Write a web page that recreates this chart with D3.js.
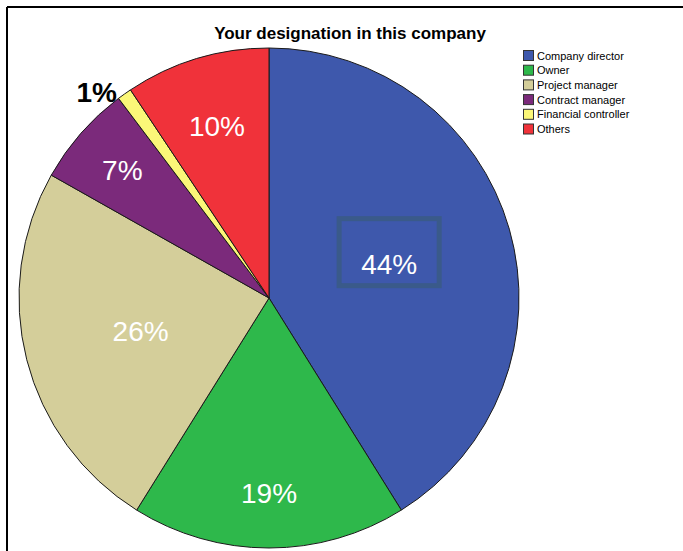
<!DOCTYPE html>
<html>
<head>
<meta charset="utf-8">
<script src="https://cdn.jsdelivr.net/npm/d3@7"></script>
<style>
  html, body { margin: 0; padding: 0; background: #fff; }
  svg { display: block; }
</style>
</head>
<body>
<svg id="chart" width="683" height="551"></svg>
<script>
// Designation categories and their percentage shares
const categories = ["Company director", "Owner", "Project manager", "Contract manager", "Financial controller", "Others"];
const values = [44, 19, 26, 7, 1, 10];
const colors = ["#3e58ac", "#2eb84b", "#d4ce9a", "#7b2a7b", "#fbf778", "#f0323a"];
const title = "Your designation in this company";

// Label placement along each slice's mid-angle, as a fraction of the radius
// (values above 1 put the label outside the pie)
const labelRadius = [0.5, 0.78, 0.53, 0.78, 1.01, 0.72];

const svg = d3.select("#chart");
const W = 683, H = 551;
const cx = 269, cy = 298, R = 250;

// Frame lines (top and left)
svg.append("line").attr("x1", 7).attr("y1", 7).attr("x2", W).attr("y2", 7)
  .attr("stroke", "#000").attr("stroke-width", 2);
svg.append("line").attr("x1", 7).attr("y1", 7).attr("x2", 7).attr("y2", H)
  .attr("stroke", "#000").attr("stroke-width", 2);

// Title
svg.append("text")
  .attr("x", 350).attr("y", 39)
  .attr("text-anchor", "middle")
  .attr("font-family", "Liberation Sans, Arial, sans-serif")
  .attr("font-size", 17).attr("font-weight", "bold")
  .attr("fill", "#000")
  .text(title);

const data = categories.map((c, i) => ({ name: c, value: values[i], color: colors[i], lr: labelRadius[i] }));

const pie = d3.pie().value(d => d.value).sort(null);
const arcs = pie(data);
const arc = d3.arc().innerRadius(0).outerRadius(R);

const g = svg.append("g").attr("transform", `translate(${cx},${cy})`);

g.selectAll("path.slice")
  .data(arcs)
  .enter().append("path")
  .attr("class", "slice")
  .attr("d", arc)
  .attr("fill", d => d.data.color)
  .attr("stroke", "#1a1a1a")
  .attr("stroke-width", 1)
  .attr("stroke-linejoin", "round");

// Percentage labels
const fmt = d => d3.format(".0f")(d.data.value) + "%";
const outside = d => d.data.lr > 1;
const labelPos = d => {
  const a = (d.startAngle + d.endAngle) / 2;
  const r = R * d.data.lr;
  return [r * Math.sin(a) - (outside(d) ? 6 : 0), -r * Math.cos(a)];
};

const labels = g.selectAll("text.lbl")
  .data(arcs)
  .enter().append("text")
  .attr("class", "lbl")
  .attr("x", d => labelPos(d)[0])
  .attr("y", d => labelPos(d)[1])
  .attr("dy", "0.36em")
  .attr("text-anchor", d => outside(d) ? "end" : "middle")
  .attr("font-family", "Liberation Sans, Arial, sans-serif")
  .attr("font-size", 28)
  .attr("font-weight", d => outside(d) ? "bold" : "normal")
  .attr("fill", d => outside(d) ? "#000" : "#fff")
  .text(fmt);

// Selection box around the largest slice's label
const maxIdx = d3.maxIndex(values);
const boxed = labels.filter((d, i) => i === maxIdx).node();
const bb = boxed.getBBox();
g.insert("rect", "text.lbl")
  .attr("x", bb.x - 22)
  .attr("y", bb.y - 30)
  .attr("width", bb.width + 44)
  .attr("height", bb.height + 36)
  .attr("fill", "none")
  .attr("stroke", "#3a5a8a")
  .attr("stroke-width", 5);

// Legend
const legend = svg.append("g").attr("transform", "translate(523,50)");
const rowH = 14.7;
const items = legend.selectAll("g.item")
  .data(data)
  .enter().append("g")
  .attr("class", "item")
  .attr("transform", (d, i) => `translate(0,${i * rowH})`);
items.append("rect")
  .attr("x", 0.5).attr("y", 0.5)
  .attr("width", 10).attr("height", 10)
  .attr("fill", d => d.color)
  .attr("stroke", "#333").attr("stroke-width", 1);
items.append("text")
  .attr("x", 14).attr("y", 9.5)
  .attr("font-family", "Liberation Sans, Arial, sans-serif")
  .attr("font-size", 11)
  .attr("fill", "#000")
  .text(d => d.name);
</script>
</body>
</html>
